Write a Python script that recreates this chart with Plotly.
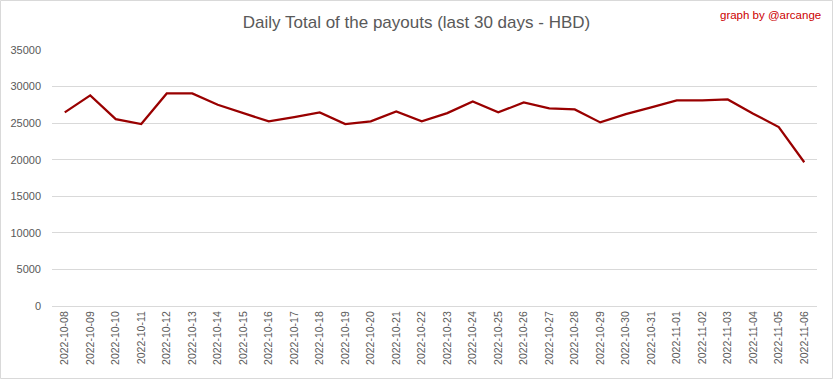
import plotly.graph_objects as go

dates = ["2022-10-08", "2022-10-09", "2022-10-10", "2022-10-11", "2022-10-12", "2022-10-13",
         "2022-10-14", "2022-10-15", "2022-10-16", "2022-10-17", "2022-10-18", "2022-10-19",
         "2022-10-20", "2022-10-21", "2022-10-22", "2022-10-23", "2022-10-24", "2022-10-25",
         "2022-10-26", "2022-10-27", "2022-10-28", "2022-10-29", "2022-10-30", "2022-10-31",
         "2022-11-01", "2022-11-02", "2022-11-03", "2022-11-04", "2022-11-05", "2022-11-06"]
payouts = [26470, 28790, 25550, 24870, 29060, 29060,
           27510, 26420, 25240, 25830, 26470, 24870,
           25240, 26600, 25240, 26370, 27970, 26470,
           27830, 27010, 26880, 25100, 26240, 27150,
           28100, 28100, 28240, 26290, 24460, 19650]
y_ticks = [0, 5000, 10000, 15000, 20000, 25000, 30000, 35000]

W, H = 833, 379
ml, mr, mt, mb = 52, 16, 50, 73
pw, ph = W - ml - mr, H - mt - mb

fig = go.Figure()
fig.add_trace(go.Scatter(x=dates, y=payouts, mode="lines",
                         line=dict(color="#990000", width=2.25), hoverinfo="x+y"))

font_fam = "Liberation Sans, Arial, sans-serif"
fig.update_layout(
    width=W, height=H,
    margin=dict(l=ml, r=mr, t=mt, b=mb, autoexpand=False),
    paper_bgcolor="white", plot_bgcolor="white",
    showlegend=False,
    font=dict(family=font_fam, color="#595959", size=11),
    title=dict(text="Daily Total of the payouts (last 30 days - HBD)",
               x=0.5, xref="container", xanchor="center", yref="container",
               y=1 - 22 / H, yanchor="middle",
               font=dict(size=17, color="#595959", family=font_fam)),
    xaxis=dict(type="category", range=[-0.5, len(dates) - 0.5], tickangle=-90,
               automargin=False,
               showgrid=False, showline=True, linecolor="#d9d9d9", linewidth=1,
               ticks="", tickfont=dict(size=10.5, color="#595959"), fixedrange=True),
    yaxis=dict(range=[0, 35000], tickvals=y_ticks, ticktext=[str(v) for v in y_ticks],
               automargin=False, ticklabelstandoff=10,
               showgrid=True, gridcolor="#d9d9d9", gridwidth=1, zeroline=False,
               showline=False, ticks="", ticklen=0, tickfont=dict(size=11, color="#595959"),
               fixedrange=True),
    annotations=[dict(text="graph by @arcange", xref="paper", yref="paper",
                      x=1 + (823 - (W - mr)) / pw, y=1 + (mt - 15) / ph,
                      xanchor="right", yanchor="middle", showarrow=False,
                      font=dict(size=11.5, color="#cc0000", family=font_fam))],
    shapes=[dict(type="rect", xref="paper", yref="paper",
                 x0=-(ml - 0.5) / pw, x1=1 + (mr - 0.5) / pw,
                 y0=-(mb - 0.5) / ph, y1=1 + (mt - 0.5) / ph,
                 line=dict(color="#d9d9d9", width=1), fillcolor="rgba(0,0,0,0)", layer="below")],
)

fig.write_html("out.html", config={"displayModeBar": False},
               post_script="document.body.style.margin='0';")
